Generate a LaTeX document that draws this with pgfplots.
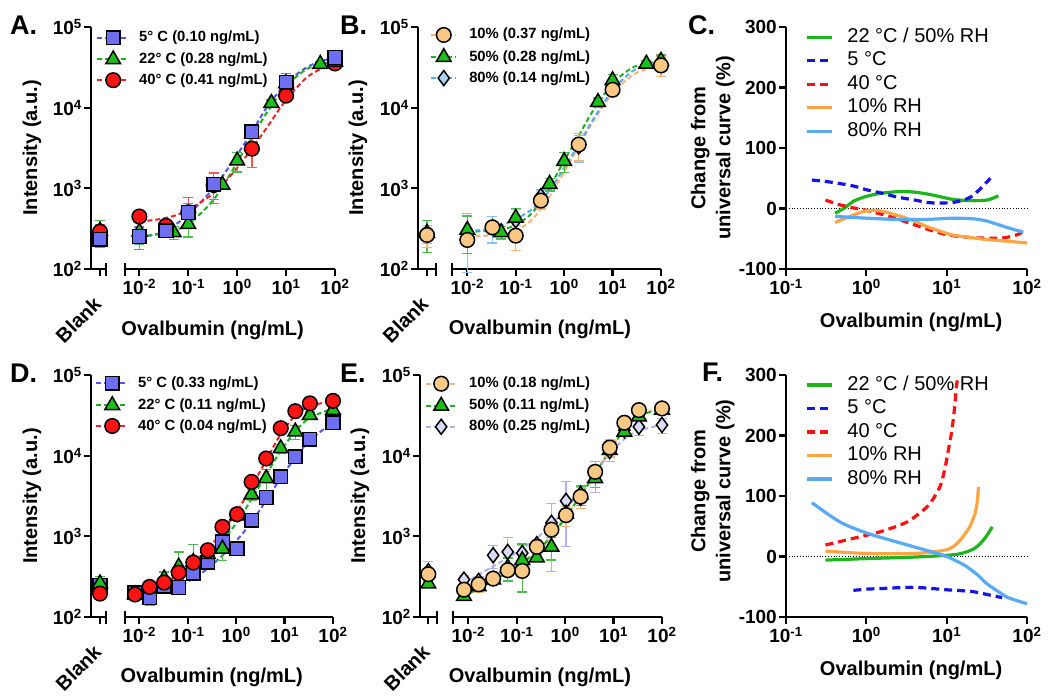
\documentclass[border=0pt]{standalone}
\usepackage{fontspec}
\setmainfont{Liberation Sans}
\usepackage{pgfplots}
\pgfplotsset{compat=1.18}

\definecolor{cBlu}{HTML}{5555E6}
\definecolor{fBlu}{HTML}{6E6EF0}
\definecolor{cGrn}{HTML}{22AE22}
\definecolor{fGrn}{HTML}{18C018}
\definecolor{cRed}{HTML}{F02424}
\definecolor{fRed}{HTML}{FF1414}
\definecolor{cOra}{HTML}{F5B47A}
\definecolor{fOra}{HTML}{F8C884}
\definecolor{cLbl}{HTML}{5AA8F0}
\definecolor{fLbl}{HTML}{A8D4F5}
\definecolor{cLav}{HTML}{B0B0F2}
\definecolor{fLav}{HTML}{DADAFA}
\definecolor{lGrn}{HTML}{1DB51D}
\definecolor{lBlu}{HTML}{1414E6}
\definecolor{lRed}{HTML}{FF1010}
\definecolor{lOra}{HTML}{FFA546}
\definecolor{lLbl}{HTML}{58AAF5}

\pgfplotsset{
  every axis/.append style={scale only axis, clip=false,
    axis line style={line width=2.2pt, -}, tick style={line width=2.2pt, black},
    tick align=outside, major tick length=7pt,
    ticklabel style={font=\bfseries\fontsize{19}{19}\selectfont},
    xticklabel style={inner ysep=3pt}, yticklabel style={inner xsep=2pt},
    label style={font=\bfseries\fontsize{20}{25}\selectfont},
    xminorticks=false, yminorticks=false},
  pFit/.style={#1, line width=2pt, dash pattern=on 5pt off 3pt, smooth, no markers, forget plot},
  pSol/.style={#1, line width=3.2pt, smooth, no markers, forget plot},
  pDash/.style={#1, line width=3.2pt, dash pattern=on 8pt off 5pt, smooth, no markers, forget plot},
  pSq/.style={only marks, forget plot, mark=square*, mark size=6.8pt, mark options={fill=#1, draw=black, line width=1.5pt, solid}},
  pCi/.style={only marks, forget plot, mark=*, mark size=7.3pt, mark options={fill=#1, draw=black, line width=1.5pt, solid}},
  pTr/.style={only marks, forget plot, mark=triangle*, mark size=8.5pt, mark options={fill=#1, draw=black, line width=1.5pt, solid}},
  pDi/.style={only marks, forget plot, mark=diamond*, mark size=7.5pt, mark options={fill=#1, draw=black, line width=1.5pt, solid}},
  lSq/.style 2 args={#1, line width=2pt, dash pattern=on 5pt off 3pt, mark=square*, mark size=6.8pt, mark options={fill=#2, draw=black, line width=1.5pt, solid}},
  lCi/.style 2 args={#1, line width=2pt, dash pattern=on 5pt off 3pt, mark=*, mark size=7.3pt, mark options={fill=#2, draw=black, line width=1.5pt, solid}},
  lTr/.style 2 args={#1, line width=2pt, dash pattern=on 5pt off 3pt, mark=triangle*, mark size=8.5pt, mark options={fill=#2, draw=black, line width=1.5pt, solid}},
  lDi/.style 2 args={#1, line width=2pt, dash pattern=on 5pt off 3pt, mark=diamond*, mark size=7.5pt, mark options={fill=#2, draw=black, line width=1.5pt, solid}},
}

\begin{document}
\begin{tikzpicture}
\useasboundingbox (0pt,0pt) rectangle (1050pt,699pt);

% ================= A =================
\begin{axis}[at={(91pt,430pt)}, anchor=south west, width=15pt, height=242pt,
  xmin=0, xmax=1, ymode=log, ymin=100, ymax=100000,
  axis x line*=bottom, axis y line*=left,
  xtick={0.6}, xticklabels={Blank}, xticklabel shift=22pt, xticklabel style={rotate=45, anchor=east, font=\bfseries\fontsize{20}{20}\selectfont},
  ytick={100,1000,10000,100000},
  yticklabels={10\textsuperscript{2},10\textsuperscript{3},10\textsuperscript{4},10\textsuperscript{5}},
  ylabel={Intensity (a.u.)}, ylabel style={at={(axis description cs:-3.93,0.5)}, anchor=center}]
\draw[line width=2.2pt] (rel axis cs:1,0) ++(0pt,-7pt) -- ++(0pt,13pt);
\addplot[pTr=fGrn, error bars/.cd, y dir=both, y explicit, error bar style={cGrn!80, line width=1.3pt, solid}, error mark options={rotate=90, mark size=5pt, cGrn!80, line width=1.3pt}] coordinates {(0.6,297) +- (0,100)};
\addplot[pCi=fRed, error bars/.cd, y dir=both, y explicit, error bar style={cRed!75, line width=1.3pt, solid}, error mark options={rotate=90, mark size=5pt, cRed!75, line width=1.3pt}] coordinates {(0.6,290) +- (0,60)};
\addplot[pSq=fBlu, error bars/.cd, y dir=both, y explicit, error bar style={cBlu!75, line width=1.3pt, solid}, error mark options={rotate=90, mark size=5pt, cBlu!75, line width=1.3pt}] coordinates {(0.6,234) +- (0,50)};
\end{axis}
\begin{axis}[at={(125pt,430pt)}, anchor=south west, width=210pt, height=242pt,
  xmode=log, ymode=log, xmin=0.00508, xmax=100, ymin=100, ymax=100000,
  axis x line*=bottom, axis y line=none, ytick=\empty,
  xtick={0.01,0.1,1,10,100},
  xticklabels={10\textsuperscript{-2},10\textsuperscript{-1},10\textsuperscript{0},10\textsuperscript{1},10\textsuperscript{2}},
  xlabel={Ovalbumin (ng/mL)}, xlabel style={at={(axis description cs:0.417,-0.252)}, anchor=center},
  legend cell align=left,
  legend style={at={(axis description cs:-0.138,0.986)}, draw=none, fill=none, anchor=north west, inner sep=0pt, row sep=6.4pt,
    font=\bfseries\fontsize{14.8}{16}\selectfont,
    nodes={inner sep=0pt, text height=11pt, text depth=3pt},
    /tikz/every odd column/.append style={column sep=9pt}},
  legend image code/.code={\draw[mark repeat=2, mark phase=2, #1] plot coordinates {(0pt,0pt) (16pt,0pt) (32pt,0pt)};}]
\draw[line width=2.2pt] (rel axis cs:0,0) ++(0pt,-7pt) -- ++(0pt,13pt);
\addlegendimage{lSq={cBlu}{fBlu}}\addlegendentry{5° C (0.10 ng/mL)}
\addlegendimage{lTr={cGrn}{fGrn}}\addlegendentry{22° C (0.28 ng/mL)}
\addlegendimage{lCi={cRed}{fRed}}\addlegendentry{40° C (0.41 ng/mL)}
\addplot[pFit=cBlu] coordinates {(0.01,250)(0.02,265)(0.035,300)(0.06,370)(0.1,470)(0.2,720)(0.35,1050)(0.6,1650)(1,2600)(2,5000)(4,10000)(10,20000)(25,31000)(50,37500)(100,41500)};
\addplot[pFit=cGrn] coordinates {(0.01,255)(0.02,265)(0.035,280)(0.06,310)(0.1,360)(0.2,520)(0.35,760)(0.6,1250)(1,2100)(2,4300)(4,8600)(10,18500)(25,29500)(50,34500)(100,37500)};
\addplot[pFit=cRed] coordinates {(0.01,390)(0.02,405)(0.035,430)(0.06,470)(0.1,540)(0.2,700)(0.35,900)(0.6,1250)(1,1800)(2,3100)(4,5600)(10,12500)(25,23000)(50,30000)(100,35000)};
\addplot[pCi=fRed, error bars/.cd, y dir=both, y explicit, error bar style={cRed!75, line width=1.3pt, solid}, error mark options={rotate=90, mark size=5pt, cRed!75, line width=1.3pt}] coordinates {(0.01,447) +- (0,40) (0.035,343) +- (0,40) (0.1,505) +- (0,260) (0.33,1100) +- (0,450) (2,3100) +- (0,1300) (10,14100) +- (0,2000) (100,35300) +- (0,3000)};
\addplot[pTr=fGrn, error bars/.cd, y dir=both, y explicit, error bar style={cGrn!80, line width=1.3pt, solid}, error mark options={rotate=90, mark size=5pt, cGrn!80, line width=1.3pt}] coordinates {(0.01,290) +- (0,90) (0.05,284) +- (0,50) (0.1,359) +- (0,110) (0.5,1100) +- (0,100) (1,2200) +- (0,600) (5,11400) +- (0,1000) (10,20000) +- (0,3000) (50,34700) +- (0,2000) (100,37000) +- (0,3000)};
\addplot[pSq=fBlu, error bars/.cd, y dir=both, y explicit, error bar style={cBlu!75, line width=1.3pt, solid}, error mark options={rotate=90, mark size=5pt, cBlu!75, line width=1.3pt}] coordinates {(0.01,253) +- (0,80) (0.035,297) +- (0,30) (0.1,502) +- (0,150) (0.33,1120) +- (0,400) (2,5000) +- (0,600) (10,20600) +- (0,6000) (100,41900) +- (0,3000)};
\end{axis}

% ================= B =================
\begin{axis}[at={(418pt,430pt)}, anchor=south west, width=18pt, height=242pt,
  xmin=0, xmax=1, ymode=log, ymin=100, ymax=100000,
  axis x line*=bottom, axis y line*=left,
  xtick={0.5}, xticklabels={Blank}, xticklabel shift=22pt, xticklabel style={rotate=45, anchor=east, font=\bfseries\fontsize{20}{20}\selectfont},
  ytick={100,1000,10000,100000},
  yticklabels={10\textsuperscript{2},10\textsuperscript{3},10\textsuperscript{4},10\textsuperscript{5}},
  ylabel={Intensity (a.u.)}, ylabel style={at={(axis description cs:-3.33,0.5)}, anchor=center}]
\draw[line width=2.2pt] (rel axis cs:1,0) ++(0pt,-7pt) -- ++(0pt,13pt);
\addplot[pDi=fLbl, error bars/.cd, y dir=both, y explicit, error bar style={cLbl!70, line width=1.3pt, solid}, error mark options={rotate=90, mark size=5pt, cLbl!70, line width=1.3pt}] coordinates {(0.5,265) +- (0,60)};
\addplot[pTr=fGrn, error bars/.cd, y dir=both, y explicit, error bar style={cGrn!80, line width=1.3pt, solid}, error mark options={rotate=90, mark size=5pt, cGrn!80, line width=1.3pt}] coordinates {(0.5,280) +- (0,120)};
\addplot[pCi=fOra, error bars/.cd, y dir=both, y explicit, error bar style={cOra, line width=1.3pt, solid}, error mark options={rotate=90, mark size=5pt, cOra, line width=1.3pt}] coordinates {(0.5,264) +- (0,80)};
\end{axis}
\begin{axis}[at={(452pt,430pt)}, anchor=south west, width=209pt, height=242pt,
  xmode=log, ymode=log, xmin=0.00483, xmax=100, ymin=100, ymax=100000,
  axis x line*=bottom, axis y line=none, ytick=\empty,
  xtick={0.01,0.1,1,10,100},
  xticklabels={10\textsuperscript{-2},10\textsuperscript{-1},10\textsuperscript{0},10\textsuperscript{1},10\textsuperscript{2}},
  xlabel={Ovalbumin (ng/mL)}, xlabel style={at={(axis description cs:0.421,-0.248)}, anchor=center},
  legend cell align=left,
  legend style={at={(axis description cs:-0.105,0.998)}, draw=none, fill=none, anchor=north west, inner sep=0pt, row sep=6.4pt,
    font=\bfseries\fontsize{14.8}{16}\selectfont,
    nodes={inner sep=0pt, text height=11pt, text depth=3pt},
    /tikz/every odd column/.append style={column sep=12pt}},
  legend image code/.code={\draw[mark repeat=2, mark phase=2, #1] plot coordinates {(0pt,0pt) (12.5pt,0pt) (25pt,0pt)};}]
\draw[line width=2.2pt] (rel axis cs:0,0) ++(0pt,-7pt) -- ++(0pt,13pt);
\addlegendimage{lCi={cOra}{fOra}}\addlegendentry{10\% (0.37 ng/mL)}
\addlegendimage{lTr={cGrn}{fGrn}}\addlegendentry{50\% (0.28 ng/mL)}
\addlegendimage{lDi={cLbl}{fLbl}}\addlegendentry{80\% (0.14 ng/mL)}
\addplot[pFit=cOra] coordinates {(0.01,255)(0.02,257)(0.035,262)(0.06,272)(0.1,295)(0.2,390)(0.35,580)(0.6,950)(1,1600)(2,3300)(4,6800)(10,15000)(25,25000)(50,30000)(100,33000)};
\addplot[pFit=cGrn] coordinates {(0.01,290)(0.02,293)(0.035,300)(0.06,315)(0.1,350)(0.2,470)(0.35,720)(0.6,1250)(1,2200)(2,4500)(4,9300)(10,20000)(25,31000)(50,35500)(100,37500)};
\addplot[pFit=cLbl] coordinates {(0.01,295)(0.02,305)(0.035,325)(0.06,360)(0.1,415)(0.2,530)(0.35,720)(0.6,1100)(1,1800)(2,3500)(4,7200)(10,16500)(25,28000)(50,34000)(100,37000)};
\addplot[pDi=fLbl, error bars/.cd, y dir=both, y explicit, error bar style={cLbl!70, line width=1.3pt, solid}, error mark options={rotate=90, mark size=5pt, cLbl!70, line width=1.3pt}] coordinates {(0.01,290) +- (0,200) (0.033,330) +- (0,120) (0.1,400) +- (0,150) (0.33,800) +- (0,150) (2,3300) +- (0,1200) (10,17500) +- (0,3000) (100,36000) +- (0,5000)};
\addplot[pTr=fGrn, error bars/.cd, y dir=both, y explicit, error bar style={cGrn!80, line width=1.3pt, solid}, error mark options={rotate=90, mark size=5pt, cGrn!80, line width=1.3pt}] coordinates {(0.01,305) +- (0,150) (0.05,285) +- (0,50) (0.1,430) +- (0,130) (0.5,1130) +- (0,200) (1,2170) +- (0,600) (5,11700) +- (0,1500) (10,21800) +- (0,4000) (50,35000) +- (0,3000) (100,38000) +- (0,7000)};
\addplot[pCi=fOra, error bars/.cd, y dir=both, y explicit, error bar style={cOra, line width=1.3pt, solid}, error mark options={rotate=90, mark size=5pt, cOra, line width=1.3pt}] coordinates {(0.01,229) +- (0,30) (0.033,328) +- (0,60) (0.1,259) +- (0,90) (0.33,705) +- (0,150) (2,3490) +- (0,1300) (10,16670) +- (0,3000) (100,33400) +- (0,9000)};
\end{axis}

% ================= C =================
\begin{axis}[at={(786pt,430pt)}, anchor=south west, width=241pt, height=242pt,
  xmode=log, xmin=0.1, xmax=100, ymin=-100, ymax=300,
  axis x line*=bottom, axis y line*=left,
  xtick={0.1,1,10,100}, xticklabels={10\textsuperscript{-1},10\textsuperscript{0},10\textsuperscript{1},10\textsuperscript{2}},
  ytick={-100,0,100,200,300}, yticklabels={-100,0,100,200,300},
  xlabel={Ovalbumin (ng/mL)}, ylabel={Change from\\universal curve (\%)},
  xlabel style={at={(axis description cs:0.519,-0.219)}, anchor=center},
  ylabel style={align=center, anchor=center, at={(axis description cs:-0.304,0.5)}},
  legend cell align=left,
  legend style={at={(axis description cs:0.079,0.997)}, draw=none, fill=none, anchor=north west, inner sep=0pt, row sep=5pt,
    font=\fontsize{20}{22}\selectfont,
    nodes={inner sep=0pt, text height=14.5pt, text depth=4pt},
    /tikz/every odd column/.append style={column sep=14pt}},
  legend image code/.code={\draw[#1] plot coordinates {(0pt,0pt) (25pt,0pt)};}]
\addlegendimage{lGrn, line width=3.2pt}\addlegendentry{22 °C / 50\% RH}
\addlegendimage{lBlu, line width=3.2pt, dash pattern=on 8pt off 5pt}\addlegendentry{5 °C}
\addlegendimage{lRed, line width=3.2pt, dash pattern=on 8pt off 5pt}\addlegendentry{40 °C}
\addlegendimage{lOra, line width=3.2pt}\addlegendentry{10\% RH}
\addlegendimage{lLbl, line width=3.2pt}\addlegendentry{80\% RH}
\addplot[black, dotted, line width=0.8pt, forget plot] coordinates {(0.1,0) (100,0)};
\addplot[pSol=lGrn] coordinates {(0.41,-8)(0.55,2)(0.69,12)(1.0,20)(1.5,25)(2.6,28)(4,27)(5.7,24)(8,20)(12,15)(20,13)(32,14)(44,21)};
\addplot[pDash=lBlu] coordinates {(0.21,47)(0.3,45)(0.43,42)(0.7,37)(1.0,31)(1.6,25)(2.4,19)(4,14)(5.7,10)(8,9)(12,10)(16,14)(20,19)(26,32)(35,50)};
\addplot[pDash=lRed] coordinates {(0.31,14)(0.47,6)(0.69,1)(1.0,-3)(1.6,-10)(2.4,-17)(4,-27)(5.7,-34)(8.5,-41)(12,-45)(20,-48)(30,-49)(47,-49)(65,-46)(80,-42)(90,-38)};
\addplot[pSol=lOra] coordinates {(0.41,-23)(0.55,-16)(0.75,-9)(1.0,-4)(1.5,-4)(2.4,-11)(4,-21)(5.7,-30)(8.5,-38)(12,-44)(20,-48)(30,-51)(56,-54)(100,-57)};
\addplot[pSol=lLbl] coordinates {(0.41,-13)(1.0,-16)(2.4,-18)(5.7,-18)(12,-16)(21,-17)(30,-20)(38,-24)(62,-33)(90,-39)};
\end{axis}

% ================= D =================
\begin{axis}[at={(91pt,82pt)}, anchor=south west, width=15pt, height=242pt,
  xmin=0, xmax=1, ymode=log, ymin=100, ymax=100000,
  axis x line*=bottom, axis y line*=left,
  xtick={0.6}, xticklabels={Blank}, xticklabel shift=22pt, xticklabel style={rotate=45, anchor=east, font=\bfseries\fontsize{20}{20}\selectfont},
  ytick={100,1000,10000,100000},
  yticklabels={10\textsuperscript{2},10\textsuperscript{3},10\textsuperscript{4},10\textsuperscript{5}},
  ylabel={Intensity (a.u.)}, ylabel style={at={(axis description cs:-3.93,0.5)}, anchor=center}]
\draw[line width=2.2pt] (rel axis cs:1,0) ++(0pt,-7pt) -- ++(0pt,13pt);
\addplot[pSq=fBlu, error bars/.cd, y dir=both, y explicit, error bar style={cBlu!75, line width=1.3pt, solid}, error mark options={rotate=90, mark size=5pt, cBlu!75, line width=1.3pt}] coordinates {(0.6,247) +- (0,70)};
\addplot[pTr=fGrn, error bars/.cd, y dir=both, y explicit, error bar style={cGrn!80, line width=1.3pt, solid}, error mark options={rotate=90, mark size=5pt, cGrn!80, line width=1.3pt}] coordinates {(0.6,260) +- (0,60)};
\addplot[pCi=fRed, error bars/.cd, y dir=both, y explicit, error bar style={cRed!75, line width=1.3pt, solid}, error mark options={rotate=90, mark size=5pt, cRed!75, line width=1.3pt}] coordinates {(0.6,195) +- (0,25)};
\end{axis}
\begin{axis}[at={(125pt,82pt)}, anchor=south west, width=208pt, height=242pt,
  xmode=log, ymode=log, xmin=0.00506, xmax=100, ymin=100, ymax=100000,
  axis x line*=bottom, axis y line=none, ytick=\empty,
  xtick={0.01,0.1,1,10,100},
  xticklabels={10\textsuperscript{-2},10\textsuperscript{-1},10\textsuperscript{0},10\textsuperscript{1},10\textsuperscript{2}},
  xlabel={Ovalbumin (ng/mL)}, xlabel style={at={(axis description cs:0.417,-0.248)}, anchor=center},
  legend cell align=left,
  legend style={at={(axis description cs:-0.144,0.995)}, draw=none, fill=none, anchor=north west, inner sep=0pt, row sep=6.4pt,
    font=\bfseries\fontsize{14.8}{16}\selectfont,
    nodes={inner sep=0pt, text height=11pt, text depth=3pt},
    /tikz/every odd column/.append style={column sep=9pt}},
  legend image code/.code={\draw[mark repeat=2, mark phase=2, #1] plot coordinates {(0pt,0pt) (16pt,0pt) (32pt,0pt)};}]
\draw[line width=2.2pt] (rel axis cs:0,0) ++(0pt,-7pt) -- ++(0pt,13pt);
\addlegendimage{lSq={cBlu}{fBlu}}\addlegendentry{5° C (0.33 ng/mL)}
\addlegendimage{lTr={cGrn}{fGrn}}\addlegendentry{22° C (0.11 ng/mL)}
\addlegendimage{lCi={cRed}{fRed}}\addlegendentry{40° C (0.04 ng/mL)}
\addplot[pFit=cBlu] coordinates {(0.00814,190)(0.0163,198)(0.0326,213)(0.0651,243)(0.130,300)(0.260,400)(0.521,580)(1.042,900)(2.083,1500)(4.167,2800)(8.333,5300)(16.67,9500)(33.33,15500)(100,26000)};
\addplot[pFit=cGrn] coordinates {(0.00814,175)(0.0163,210)(0.0326,260)(0.0651,330)(0.130,440)(0.260,600)(0.521,880)(1.042,1500)(2.083,2900)(4.167,5800)(8.333,11500)(16.67,20000)(33.33,29500)(100,38500)};
\addplot[pFit=cRed] coordinates {(0.00814,190)(0.0163,222)(0.0326,265)(0.0651,340)(0.130,470)(0.260,700)(0.521,1150)(1.042,2050)(2.083,4100)(4.167,8800)(8.333,18500)(16.67,31500)(33.33,41000)(100,48000)};
\addplot[pSq=fBlu, error bars/.cd, y dir=both, y explicit, error bar style={cBlu!75, line width=1.3pt, solid}, error mark options={rotate=90, mark size=5pt, cBlu!75, line width=1.3pt}] coordinates {(0.00814,200) +- (0,20) (0.0163,174) +- (0,35) (0.0326,240) +- (0,40) (0.0651,232) +- (0,30) (0.130,347) +- (0,60) (0.260,475) +- (0,50) (0.521,850) +- (0,100) (1.042,705) +- (0,60) (2.083,1590) +- (0,150) (4.167,3030) +- (0,300) (8.333,5470) +- (0,500) (16.67,9660) +- (0,800) (33.33,15900) +- (0,1200) (100,25600) +- (0,2500)};
\addplot[pTr=fGrn, error bars/.cd, y dir=both, y explicit, error bar style={cGrn!80, line width=1.3pt, solid}, error mark options={rotate=90, mark size=5pt, cGrn!80, line width=1.3pt}] coordinates {(0.00814,190) +- (0,20) (0.0163,225) +- (0,25) (0.0326,300) +- (0,60) (0.0651,420) += (0,220) -= (0,100) (0.130,480) += (0,310) -= (0,100) (0.260,600) +- (0,80) (0.521,700) +- (0,200) (1.042,1800) +- (0,200) (2.083,3300) +- (0,500) (4.167,5230) +- (0,1500) (8.333,12300) +- (0,1500) (16.67,19800) +- (0,4000) (33.33,31800) +- (0,3000) (100,36700) +- (0,5000)};
\addplot[pCi=fRed, error bars/.cd, y dir=both, y explicit, error bar style={cRed!75, line width=1.3pt, solid}, error mark options={rotate=90, mark size=5pt, cRed!75, line width=1.3pt}] coordinates {(0.00814,190) +- (0,20) (0.0163,236) +- (0,40) (0.0326,267) +- (0,30) (0.0651,355) +- (0,60) (0.130,473) +- (0,60) (0.260,672) +- (0,80) (0.521,1310) +- (0,200) (1.042,1880) +- (0,200) (2.083,4730) +- (0,500) (4.167,9220) +- (0,800) (8.333,21900) +- (0,2000) (16.67,35600) +- (0,3000) (33.33,44500) +- (0,4000) (100,47800) +- (0,8000)};
\end{axis}

% ================= E =================
\begin{axis}[at={(420pt,82pt)}, anchor=south west, width=17pt, height=242pt,
  xmin=0, xmax=1, ymode=log, ymin=100, ymax=100000,
  axis x line*=bottom, axis y line*=left,
  xtick={0.49}, xticklabels={Blank}, xticklabel shift=22pt, xticklabel style={rotate=45, anchor=east, font=\bfseries\fontsize{20}{20}\selectfont},
  ytick={100,1000,10000,100000},
  yticklabels={10\textsuperscript{2},10\textsuperscript{3},10\textsuperscript{4},10\textsuperscript{5}},
  ylabel={Intensity (a.u.)}, ylabel style={at={(axis description cs:-3.53,0.5)}, anchor=center}]
\draw[line width=2.2pt] (rel axis cs:1,0) ++(0pt,-7pt) -- ++(0pt,13pt);
\addplot[pDi=fLav, error bars/.cd, y dir=both, y explicit, error bar style={cLav, line width=1.3pt, solid}, error mark options={rotate=90, mark size=5pt, cLav, line width=1.3pt}] coordinates {(0.49,370) +- (0,120)};
\addplot[pTr=fGrn, error bars/.cd, y dir=both, y explicit, error bar style={cGrn!80, line width=1.3pt, solid}, error mark options={rotate=90, mark size=5pt, cGrn!80, line width=1.3pt}] coordinates {(0.49,259) +- (0,20)};
\addplot[pCi=fOra, error bars/.cd, y dir=both, y explicit, error bar style={cOra, line width=1.3pt, solid}, error mark options={rotate=90, mark size=5pt, cOra, line width=1.3pt}] coordinates {(0.49,339) +- (0,60)};
\end{axis}
\begin{axis}[at={(453pt,82pt)}, anchor=south west, width=209pt, height=242pt,
  xmode=log, ymode=log, xmin=0.00483, xmax=100, ymin=100, ymax=100000,
  axis x line*=bottom, axis y line=none, ytick=\empty,
  xtick={0.01,0.1,1,10,100},
  xticklabels={10\textsuperscript{-2},10\textsuperscript{-1},10\textsuperscript{0},10\textsuperscript{1},10\textsuperscript{2}},
  xlabel={Ovalbumin (ng/mL)}, xlabel style={at={(axis description cs:0.416,-0.248)}, anchor=center},
  legend cell align=left,
  legend style={at={(axis description cs:-0.134,0.995)}, draw=none, fill=none, anchor=north west, inner sep=0pt, row sep=6.4pt,
    font=\bfseries\fontsize{14.8}{16}\selectfont,
    nodes={inner sep=0pt, text height=11pt, text depth=3pt},
    /tikz/every odd column/.append style={column sep=12pt}},
  legend image code/.code={\draw[mark repeat=2, mark phase=2, #1] plot coordinates {(0pt,0pt) (15pt,0pt) (30pt,0pt)};}]
\draw[line width=2.2pt] (rel axis cs:0,0) ++(0pt,-7pt) -- ++(0pt,13pt);
\addlegendimage{lCi={cOra}{fOra}}\addlegendentry{10\% (0.18 ng/mL)}
\addlegendimage{lTr={cGrn}{fGrn}}\addlegendentry{50\% (0.11 ng/mL)}
\addlegendimage{lDi={cLav}{fLav}}\addlegendentry{80\% (0.25 ng/mL)}
\addplot[pFit=cOra] coordinates {(0.00814,205)(0.0163,240)(0.0326,290)(0.0651,350)(0.130,450)(0.260,650)(0.521,1020)(1.042,1750)(2.083,3200)(4.167,6100)(8.333,11800)(16.67,21500)(33.33,31500)(100,39500)};
\addplot[pFit=cGrn] coordinates {(0.00814,180)(0.0163,225)(0.0326,282)(0.0651,360)(0.130,470)(0.260,650)(0.521,1000)(1.042,1750)(2.083,3200)(4.167,6000)(8.333,11500)(16.67,21000)(33.33,31000)(100,38000)};
\addplot[pFit=cLav] coordinates {(0.00814,260)(0.0163,335)(0.0326,425)(0.0651,540)(0.130,700)(0.260,950)(0.521,1400)(1.042,2200)(2.083,3600)(4.167,6200)(8.333,10500)(16.67,16000)(33.33,20500)(100,24000)};
\addplot[pDi=fLav, error bars/.cd, y dir=both, y explicit, error bar style={cLav, line width=1.3pt, solid}, error mark options={rotate=90, mark size=5pt, cLav, line width=1.3pt}] coordinates {(0.00814,291) +- (0,30) (0.0163,280) +- (0,40) (0.0326,583) +- (0,180) (0.0651,641) +- (0,320) (0.130,621) +- (0,150) (0.260,800) +- (0,100) (0.521,1470) +- (0,1100) (1.042,2750) +- (0,2000) (2.083,3000) +- (0,600) (4.167,6000) +- (0,2500) (8.333,11400) +- (0,3000) (16.67,20700) +- (0,3000) (33.33,22800) +- (0,5000) (100,24000) +- (0,5000)};
\addplot[pTr=fGrn, error bars/.cd, y dir=both, y explicit, error bar style={cGrn!80, line width=1.3pt, solid}, error mark options={rotate=90, mark size=5pt, cGrn!80, line width=1.3pt}] coordinates {(0.00814,181) +- (0,15) (0.0163,240) +- (0,20) (0.0326,290) +- (0,20) (0.0651,410) +- (0,130) (0.130,505) +- (0,300) (0.260,545) +- (0,50) (0.521,740) +- (0,230) (1.042,1900) +- (0,300) (2.083,3300) +- (0,900) (4.167,5230) +- (0,1200) (8.333,11700) +- (0,2000) (16.67,19700) +- (0,2000) (33.33,30500) +- (0,3000) (100,37000) +- (0,3000)};
\addplot[pCi=fOra, error bars/.cd, y dir=both, y explicit, error bar style={cOra, line width=1.3pt, solid}, error mark options={rotate=90, mark size=5pt, cOra, line width=1.3pt}] coordinates {(0.00814,218) +- (0,20) (0.0163,254) +- (0,50) (0.0326,299) +- (0,20) (0.0651,380) +- (0,30) (0.130,372) +- (0,30) (0.260,740) +- (0,80) (0.521,1210) +- (0,150) (1.042,1830) +- (0,500) (2.083,3100) +- (0,900) (4.167,6300) +- (0,1000) (8.333,12600) +- (0,3000) (16.67,25600) +- (0,4000) (33.33,36700) +- (0,4000) (100,38500) +- (0,4000)};
\end{axis}

% ================= F =================
\begin{axis}[at={(786pt,82pt)}, anchor=south west, width=241pt, height=242pt,
  xmode=log, xmin=0.1, xmax=100, ymin=-100, ymax=300,
  axis x line*=bottom, axis y line*=left,
  xtick={0.1,1,10,100}, xticklabels={10\textsuperscript{-1},10\textsuperscript{0},10\textsuperscript{1},10\textsuperscript{2}},
  ytick={-100,0,100,200,300}, yticklabels={-100,0,100,200,300},
  xlabel={Ovalbumin (ng/mL)}, ylabel={Change from\\universal curve (\%)},
  xlabel style={at={(axis description cs:0.519,-0.219)}, anchor=center},
  ylabel style={align=center, anchor=center, at={(axis description cs:-0.304,0.52)}},
  legend cell align=left,
  legend style={at={(axis description cs:0.079,0.998)}, draw=none, fill=none, anchor=north west, inner sep=0pt, row sep=5pt,
    font=\fontsize{20}{22}\selectfont,
    nodes={inner sep=0pt, text height=14.5pt, text depth=4pt},
    /tikz/every odd column/.append style={column sep=14pt}},
  legend image code/.code={\draw[#1] plot coordinates {(0pt,0pt) (25pt,0pt)};}]
\addlegendimage{lGrn, line width=3.2pt}\addlegendentry{22 °C / 50\% RH}
\addlegendimage{lBlu, line width=3.2pt, dash pattern=on 8pt off 5pt}\addlegendentry{5 °C}
\addlegendimage{lRed, line width=3.2pt, dash pattern=on 8pt off 5pt}\addlegendentry{40 °C}
\addlegendimage{lOra, line width=3.2pt}\addlegendentry{10\% RH}
\addlegendimage{lLbl, line width=3.2pt}\addlegendentry{80\% RH}
\addplot[black, dotted, line width=0.8pt, forget plot] coordinates {(0.1,0) (100,0)};
\addplot[pSol=lGrn] coordinates {(0.31,-6)(1.0,-3.5)(3.9,-1)(10,2)(14,4)(18,8)(22,13)(26,21)(31,33)(37,49)};
\addplot[pDash=lBlu] coordinates {(0.69,-56)(1.0,-54)(1.5,-53)(3.9,-51)(10,-55)(21,-58)(35,-64)(49,-68)};
\addplot[pDash=lRed] coordinates {(0.31,19)(0.69,30)(1.5,41)(3.2,57)(5.7,82)(7,98)(8.4,118)(9.5,145)(10.5,176)(11.5,205)(12.2,231)(12.8,258)(13.2,280)(13.8,298)};
\addplot[pSol=lOra] coordinates {(0.31,9)(1.0,5)(3.9,5)(9.1,10)(12,16)(14.7,27)(17.5,40)(19.6,50)(21.5,63)(22.6,71)(24,90)(24.9,115)};
\addplot[pSol=lLbl] coordinates {(0.21,89)(0.47,57)(1.0,39)(2,27)(3.9,16)(9.1,2)(13,-7)(17.9,-17)(25,-32)(31.7,-45)(45,-59)(56,-67)(75,-73)(100,-78)};
\end{axis}

% panel letters
\begin{scope}[every node/.style={anchor=base west, inner sep=0pt, font=\bfseries\fontsize{27}{27}\selectfont}]
\node at (10pt,664pt) {A.};
\node at (340pt,664pt) {B.};
\node at (688pt,664pt) {C.};
\node at (10pt,316pt) {D.};
\node at (340pt,316pt) {E.};
\node at (702pt,317pt) {F.};
\end{scope}
\end{tikzpicture}
\end{document}
